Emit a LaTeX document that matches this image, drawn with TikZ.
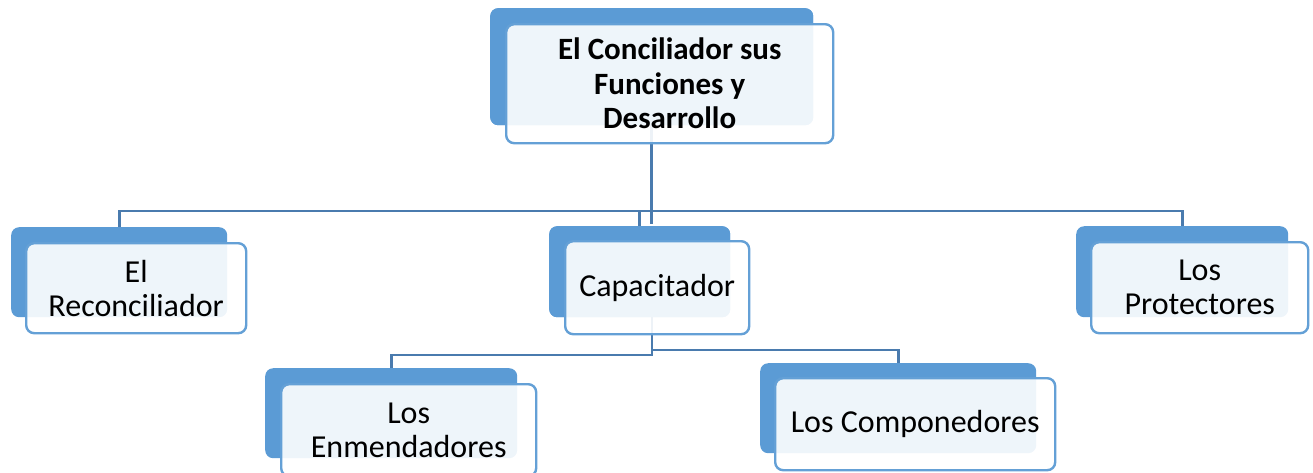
\documentclass[tikz,border=0pt]{standalone}
\usepackage{fontspec}
\setmainfont{Carlito}
\definecolor{boxblue}{HTML}{5B9BD5}
\definecolor{linkblue}{HTML}{4A7BAE}
\definecolor{edgeblue}{HTML}{64A0D6}
\begin{document}
\begin{tikzpicture}[x=1pt,y=-1pt,
  backbox/.style={anchor=north west,inner sep=0pt,rounded corners=8pt,fill=boxblue,draw=none},
  frontbox/.style={anchor=north west,inner sep=0pt,rounded corners=8pt,draw=edgeblue,line width=2.4pt,
     fill=white,fill opacity=0.9,text opacity=1,align=center,font=\fontsize{32}{34}\selectfont},
  topfont/.style={font=\fontsize{31}{34.5}\selectfont\bfseries},
  link/.style={draw=linkblue,line width=2.8pt}]
\useasboundingbox (0,0) rectangle (1313,472);
% back boxes
\node[backbox,minimum width=323pt,minimum height=117pt] (topB) at (490,8) {};
\node[backbox,minimum width=216pt,minimum height=90pt] (recB) at (11,227) {};
\node[backbox,minimum width=181pt,minimum height=91pt] (capB) at (549,226) {};
\node[backbox,minimum width=212pt,minimum height=91pt] (proB) at (1076,226) {};
\node[backbox,minimum width=252pt,minimum height=90pt] (enmB) at (265,368) {};
\node[backbox,minimum width=276pt,minimum height=90pt] (comB) at (760,363) {};
% connectors
\coordinate (bar) at (0,211);
\coordinate (capdown) at (652,0);
\coordinate (lowL) at (0,355);
\coordinate (lowR) at (0,350);
\path[link] (topB.center) -- (topB.center |- 0,224);
\path[link] (recB.north) -- (recB.north |- bar) -- (proB.north |- bar) -- (proB.north);
\path[link] (capB.center |- bar) -- (capB.north);
\path[link] (capdown |- capB.center) -- (capdown |- lowL) -- (enmB.north |- lowL) -- (enmB.north);
\path[link] (capdown |- lowR) -- (comB.north |- lowR) -- (comB.north);
% redraw back boxes over connector ends
\node[backbox,minimum width=323pt,minimum height=117pt] at (490,8) {};
\node[backbox,minimum width=181pt,minimum height=91pt] at (549,226) {};
% front boxes
\node[frontbox,topfont,minimum width=327pt,minimum height=119pt] (topF) at (505,23) {El Conciliador sus\\Funciones y\\Desarrollo};
\node[frontbox,minimum width=220pt,minimum height=90pt] (recF) at (25,242) {El\\Reconciliador};
\node[frontbox,minimum width=184pt,minimum height=93pt] (capF) at (564,240) {Capacitador};
\node[frontbox,minimum width=217pt,minimum height=91pt] (proF) at (1090,241) {Los\\Protectores};
\node[frontbox,minimum width=255pt,minimum height=92pt] (enmF) at (280,383) {Los\\Enmendadores};
\node[frontbox,minimum width=280pt,minimum height=92pt] (comF) at (774,377) {Los Componedores};
\end{tikzpicture}
\end{document}
